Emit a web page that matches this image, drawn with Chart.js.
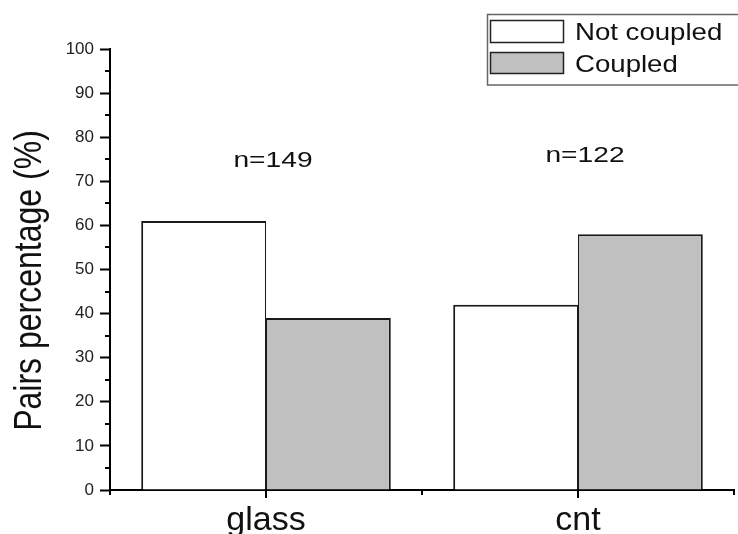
<!DOCTYPE html>
<html>
<head>
<meta charset="utf-8">
<script src="https://cdn.jsdelivr.net/npm/chart.js@4.4.1/dist/chart.umd.min.js"></script>
<style>
  html, body { margin: 0; padding: 0; background: #fff; }
  #wrap { width: 738px; height: 534px; position: relative; }
</style>
</head>
<body>
<div id="wrap"><canvas id="pairsChart"></canvas></div>
<script>
const categories = ['glass', 'cnt'];
const notCoupled = [61, 42];
const coupled = [39, 58];
const pairCounts = [149, 122];
const seriesNames = ['Not coupled', 'Coupled'];

const FONT = '"Liberation Sans", Arial, sans-serif';

// draw text squeezed/stretched horizontally around (x, y)
function wideText(ctx, text, x, y, sx, align) {
    ctx.save();
    ctx.translate(x, y);
    ctx.scale(sx, 1);
    ctx.textAlign = align;
    ctx.textBaseline = 'alphabetic';
    ctx.fillText(text, 0, 0);
    ctx.restore();
}

// minor ticks on y, category / boundary ticks on x
const axisTicks = {
    id: 'axisTicks',
    afterDraw(chart) {
        const { ctx, scales: { x, y } } = chart;
        ctx.save();
        ctx.strokeStyle = '#000';
        ctx.lineWidth = 2;
        ctx.beginPath();
        for (let v = 5; v < 100; v += 10) {
            const py = Math.round(y.getPixelForValue(v));
            ctx.moveTo(y.right - 5, py);
            ctx.lineTo(y.right, py);
        }
        categories.forEach((c, i) => {
            const px = Math.round(x.getPixelForValue(i));
            ctx.moveTo(px, x.top);
            ctx.lineTo(px, x.top + 8);
        });
        for (let i = 0; i <= categories.length; i++) {
            const px = Math.round(x.getPixelForValue(i - 0.5));
            ctx.moveTo(px, x.top);
            ctx.lineTo(px, x.top + 5);
        }
        ctx.stroke();
        ctx.restore();
    }
};

// y title, n= counts and the framed legend
const extraText = {
    id: 'extraText',
    afterDraw(chart) {
        const { ctx, scales: { x, y } } = chart;
        ctx.save();
        ctx.fillStyle = '#111';

        // y axis title, rotated
        ctx.save();
        ctx.translate(41, (y.top + y.bottom) / 2 + 11);
        ctx.rotate(-Math.PI / 2);
        ctx.scale(1, 1.2);
        ctx.font = '32px ' + FONT;
        ctx.textAlign = 'center';
        ctx.fillText('Pairs percentage (%)', 0, 0);
        ctx.restore();

        // sample sizes above each group
        const levels = [73.2, 74.4];
        ctx.font = '22px ' + FONT;
        pairCounts.forEach((n, i) => {
            wideText(ctx, 'n=' + n, x.getPixelForValue(i) + 7, y.getPixelForValue(levels[i]), 1.28, 'center');
        });

        // legend box
        ctx.strokeStyle = '#666';
        ctx.lineWidth = 1.5;
        ctx.strokeRect(487.5, 14.5, 260, 70.5);
        const rows = [{ top: 20, h: 22, base: 40 }, { top: 52, h: 21, base: 72 }];
        ctx.font = '24px ' + FONT;
        chart.data.datasets.forEach((ds, i) => {
            const r = rows[i];
            ctx.fillStyle = ds.backgroundColor;
            ctx.fillRect(490, r.top, 74, r.h);
            ctx.strokeStyle = '#222';
            ctx.lineWidth = 1.5;
            ctx.strokeRect(490.5, r.top + 0.5, 73, r.h);
            ctx.fillStyle = '#111';
            wideText(ctx, seriesNames[i], 575, r.base, 1.15, 'left');
        });
        ctx.restore();
    }
};

new Chart(document.getElementById('pairsChart'), {
    type: 'bar',
    data: {
        labels: categories,
        datasets: [
            {
                label: seriesNames[0],
                data: notCoupled,
                backgroundColor: '#ffffff',
                borderColor: '#1a1a1a',
                borderWidth: { top: 2, left: 2, right: 1, bottom: 0 }
            },
            {
                label: seriesNames[1],
                data: coupled,
                backgroundColor: '#c0c0c0',
                borderColor: '#1a1a1a',
                borderWidth: { top: 2, left: 1, right: 2, bottom: 0 }
            }
        ]
    },
    options: {
        responsive: true,
        maintainAspectRatio: false,
        animation: false,
        devicePixelRatio: 1,
        categoryPercentage: 0.8,
        barPercentage: 1.0,
        layout: { padding: { top: 49, right: 4, left: 0, bottom: 0 } },
        plugins: {
            legend: { display: false },
            tooltip: { enabled: false }
        },
        scales: {
            x: {
                offset: true,
                grid: { display: true, drawOnChartArea: false, drawTicks: false },
                border: { color: '#000', width: 2 },
                ticks: {
                    color: '#111',
                    padding: 10,
                    font: { family: FONT, size: 34 }
                },
                afterFit(scale) { scale.height = 44; }
            },
            y: {
                min: 0,
                max: 100,
                grid: {
                    drawOnChartArea: false,
                    color: '#000',
                    tickColor: '#000',
                    tickLength: 10,
                    tickWidth: 2
                },
                border: { color: '#000', width: 2 },
                ticks: {
                    stepSize: 10,
                    color: '#222',
                    padding: 6,
                    font: { family: FONT, size: 17 }
                },
                afterFit(scale) { scale.width = 110; }
            }
        }
    },
    plugins: [axisTicks, extraText]
});
</script>
</body>
</html>
